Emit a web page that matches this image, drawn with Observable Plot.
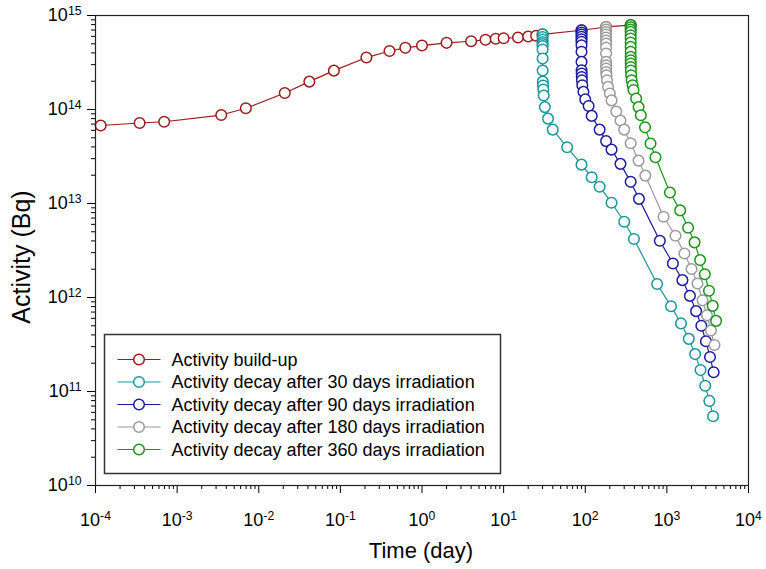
<!DOCTYPE html>
<html><head><meta charset="utf-8">
<script src="https://cdn.jsdelivr.net/npm/d3@7"></script>
<script src="https://cdn.jsdelivr.net/npm/@observablehq/plot@0.6"></script>
<style>
html,body{margin:0;padding:0;background:#fff;}
#chart{position:relative;width:766px;height:569px;}
</style></head><body><div id="chart"></div>
<script>
// ---- data ----
const seriesNames = [
  "Activity build-up",
  "Activity decay after 30 days irradiation",
  "Activity decay after 90 days irradiation",
  "Activity decay after 180 days irradiation",
  "Activity decay after 360 days irradiation"
];
const seriesColors = ["#9a1b1b", "#17969b", "#1c1ca0", "#9a9a9a", "#1a941a"];
const irradiationDays = [30, 90, 180, 360];

const buildupDays = [1.157e-4, 3.472e-4, 6.944e-4, 3.472e-3, 6.944e-3, 0.02083, 0.04167, 0.08333, 0.2083, 0.4, 0.625, 1, 2, 4, 6, 8, 10, 15, 20, 25, 30, 90, 180, 360];
const buildupActivity = [6.76e13, 7.18e13, 7.41e13, 8.73e13, 1.03e14, 1.50e14, 1.98e14, 2.59e14, 3.57e14, 4.19e14, 4.53e14, 4.79e14, 5.12e14, 5.32e14, 5.51e14, 5.65e14, 5.73e14, 5.83e14, 5.97e14, 6.08e14, 6.3e14, 6.97e14, 7.55e14, 7.9e14];

// time elapsed after end of irradiation (days)
const decayDays = [0, 1.157e-4, 3.472e-4, 6.944e-4, 3.472e-3, 6.944e-3, 0.02083, 0.04167, 0.08333, 0.2083, 0.4167, 0.625, 1, 2, 5, 10, 20, 30, 60, 90, 120, 180, 270, 365, 730, 1095, 1460, 1825, 2190, 2555, 2920, 3285, 3650];
const decay30Activity = [6.3e14, 5.90e14, 5.55e14, 5.22e14, 4.97e14, 4.73e14, 4.34e14, 3.48e14, 2.60e14, 1.98e14, 1.80e14, 1.63e14, 1.41e14, 1.06e14, 8.0e13, 6.11e13, null, 3.96e13, 2.59e13, 1.90e13, 1.51e13, 1.02e13, 6.40e12, 4.19e12, 1.39e12, 8.07e11, 5.30e11, 3.63e11, 2.50e11, 1.69e11, 1.15e11, 7.94e10, 5.46e10];
const decay90Activity = [6.97e14, 6.59e14, 6.28e14, 5.93e14, 5.59e14, 5.25e14, 4.83e14, 4.11e14, 3.21e14, 2.61e14, 2.41e14, 2.22e14, 2.05e14, 1.81e14, 1.54e14, 1.28e14, 1.09e14, 8.55e13, 6.11e13, 4.61e13, 3.74e13, 2.64e13, 1.70e13, 1.12e13, 4.02e12, 2.30e12, 1.53e12, 1.04e12, 7.16e11, 5.00e11, 3.42e11, 2.33e11, 1.60e11];
const decay180Activity = [7.55e14, 7.10e14, 6.67e14, 6.28e14, 5.83e14, 5.42e14, 5.04e14, 4.56e14, 3.94e14, 3.21e14, 2.96e14, 2.73e14, 2.51e14, 2.31e14, 2.05e14, 1.74e14, 1.48e14, 1.25e14, 9.50e13, 7.62e13, 6.11e13, 4.37e13, 2.86e13, 1.98e13, 7.23e12, 4.54e12, 2.94e12, 2.01e12, 1.41e12, 9.33e11, 6.46e11, 4.45e11, 3.12e11];
const decay360Activity = [7.9e14, 7.5e14, 7.1e14, 6.70e14, 6.16e14, 5.69e14, 5.15e14, 4.64e14, 4.11e14, 3.63e14, 3.34e14, 3.08e14, 2.83e14, 2.60e14, 2.31e14, 2.05e14, 1.81e14, 1.61e14, 1.31e14, 1.06e14, 8.69e13, 6.46e13, 4.34e13, 3.10e13, 1.31e13, 8.45e12, 5.53e12, 3.86e12, 2.50e12, 1.77e12, 1.18e12, 8.15e11, 5.64e11];

const xTickExponents = [-4, -3, -2, -1, 0, 1, 2, 3, 4];
const yTickExponents = [10, 11, 12, 13, 14, 15];
const xTitle = "Time (day)";
const yTitle = "Activity (Bq)";

// ---- build tables ----
function rows(name, times, values) {
  return times.map((t, i) => ({series: name, t, a: values[i]})).filter(d => d.a != null);
}
const decaySets = [decay30Activity, decay90Activity, decay180Activity, decay360Activity];
const allSeries = [rows(seriesNames[0], buildupDays, buildupActivity)]
  .concat(decaySets.map((vals, k) => rows(seriesNames[k + 1], decayDays.map(d => irradiationDays[k] + d), vals)));

const majorX = xTickExponents.map(e => 10 ** e);
const minorX = xTickExponents.slice(0, -1).flatMap(e => [2,3,4,5,6,7,8,9].map(m => m * 10 ** e));
const majorY = yTickExponents.map(e => 10 ** e);
const minorY = yTickExponents.slice(0, -1).flatMap(e => [2,3,4,5,6,7,8,9].map(m => m * 10 ** e));
const supFmt = v => "10^" + Math.round(Math.log10(v));

const seriesMarks = allSeries.flatMap((data, i) => [
  Plot.line(data, {x: "t", y: "a", stroke: seriesColors[i], strokeWidth: 1.2}),
  Plot.dot(data, {x: "t", y: "a", r: 5.3, stroke: seriesColors[i], fill: "white", strokeWidth: 1.5})
]);

const FONT = "'Liberation Sans', Arial, sans-serif";
const plot = Plot.plot({
  width: 766, height: 569,
  marginLeft: 95, marginRight: 18, marginTop: 15, marginBottom: 84,
  style: {fontFamily: FONT, fontSize: "18px", color: "#000", background: "#fff"},
  x: {type: "log", domain: [1e-4, 1e4]},
  y: {type: "log", domain: [1e10, 1e15]},
  marks: [
    Plot.axisX(minorX, {anchor: "bottom", tickSize: 4, tickFormat: () => "", label: null}),
    Plot.axisX(majorX, {anchor: "bottom", tickSize: 8, tickPadding: 20, tickFormat: supFmt, label: null}),
    Plot.axisY(minorY, {anchor: "left", tickSize: 4, tickFormat: () => "", label: null}),
    Plot.axisY(majorY, {anchor: "left", tickSize: 8, tickPadding: 6, tickFormat: supFmt, label: null}),
    ...seriesMarks,
    Plot.frame({stroke: "#222", strokeWidth: 1.2})
  ]
});

const svg = d3.select(plot);
svg.selectAll("text").each(function() {
  const s = this.textContent;
  if (!s || s.indexOf("^") < 0) return;
  const [b, e] = s.split("^");
  const t = d3.select(this);
  t.text(b);
  t.append("tspan").attr("dy", "-0.5em").attr("font-size", "0.68em").text(e);
});

// axis titles
svg.append("text").attr("x", 421).attr("y", 550).attr("dy", "0.35em")
  .attr("text-anchor", "middle").attr("font-family", FONT).attr("font-size", 22).attr("fill", "#000").text(xTitle);
svg.append("text").attr("transform", "translate(21,257) rotate(-90)").attr("dy", "0.35em")
  .attr("text-anchor", "middle").attr("font-family", FONT).attr("font-size", 25).attr("fill", "#000").text(yTitle);

// legend box
const lg = svg.append("g").attr("transform", "translate(104.5,334.5)")
  .attr("font-family", FONT).attr("text-anchor", "start");
lg.append("rect").attr("width", 396).attr("height", 139).attr("fill", "white")
  .attr("stroke", "#333").attr("stroke-width", 1.5);
seriesNames.forEach((name, i) => {
  const y = 25 + i * 22.5;
  lg.append("line").attr("x1", 13).attr("x2", 56).attr("y1", y).attr("y2", y)
    .attr("stroke", seriesColors[i]).attr("stroke-width", 1.2);
  lg.append("circle").attr("cx", 34.5).attr("cy", y).attr("r", 5.3).attr("fill", "white")
    .attr("stroke", seriesColors[i]).attr("stroke-width", 1.5);
  lg.append("text").attr("x", 67).attr("y", y).attr("dy", "0.35em").attr("text-anchor", "start")
    .attr("font-size", 18).attr("fill", "#000").text(name);
});

document.getElementById("chart").appendChild(plot);
</script></body></html>
